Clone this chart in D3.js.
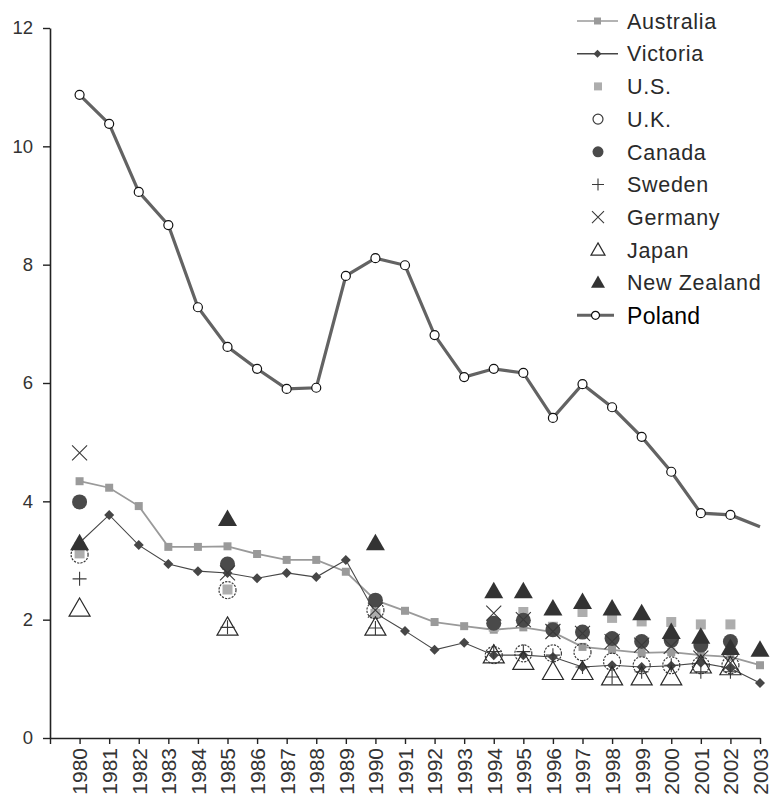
<!DOCTYPE html>
<html>
<head>
<meta charset="utf-8">
<script src="https://cdn.jsdelivr.net/npm/d3@7"></script>
<style>
  body { margin: 0; background: #fff; }
  svg { display: block; font-family: "Liberation Sans", Arial, sans-serif; }
</style>
</head>
<body>
<svg></svg>
<script>
const width = 774;
const height = 796;

// full yearly series
const years = [1980, 1981, 1982, 1983, 1984, 1985, 1986, 1987, 1988, 1989, 1990, 1991,
  1992, 1993, 1994, 1995, 1996, 1997, 1998, 1999, 2000, 2001, 2002, 2003];
const australia = [4.34, 4.23, 3.92, 3.23, 3.23, 3.24, 3.11, 3.01, 3.01, 2.81, 2.33, 2.15,
  1.96, 1.89, 1.83, 1.87, 1.79, 1.54, 1.49, 1.44, 1.45, 1.40, 1.37, 1.23];
const victoria = [3.30, 3.77, 3.26, 2.94, 2.82, 2.79, 2.70, 2.79, 2.72, 3.01, 2.11, 1.81,
  1.49, 1.61, 1.40, 1.40, 1.37, 1.20, 1.23, 1.20, 1.22, 1.27, 1.18, 0.93];
const poland = [10.87, 10.38, 9.23, 8.67, 7.28, 6.61, 6.24, 5.90, 5.92, 7.81, 8.11, 7.99,
  6.81, 6.10, 6.24, 6.17, 5.41, 5.98, 5.59, 5.09, 4.50, 3.80, 3.77, 3.57];

// countries with sparse observations
const sparseYears = [1980, 1985, 1990, 1994, 1995, 1996, 1997, 1998, 1999, 2000, 2001, 2002, 2003];
const us =      [3.12, 2.51, 2.10, 1.88, 2.13, 1.88, 2.13, 2.03, 1.97, 1.96, 1.92, 1.92, null];
const uk =      [3.10, 2.50, 2.16, 1.40, 1.43, 1.43, 1.45, 1.29, 1.23, 1.23, 1.23, 1.23, null];
const canada =  [3.99, 2.94, 2.33, 1.94, 1.99, 1.83, 1.79, 1.68, 1.63, 1.65, 1.57, 1.63, null];
const sweden =  [2.69, 1.87, 1.86, 1.46, 1.46, 1.40, 1.20, 1.03, 1.12, 1.23, 1.12, 1.12, null];
const germany = [4.82, 2.79, 2.16, 2.11, 2.00, 1.80, 1.77, 1.63, 1.57, 1.55, 1.35, 1.27, null];
const japan =   [2.19, 1.87, 1.87, 1.40, 1.29, 1.12, 1.12, 1.03, 1.03, 1.03, 1.23, 1.20, null];
const newZealand = [3.29, 3.70, 3.29, 2.48, 2.48, 2.19, 2.30, 2.19, 2.11, 1.79, 1.71, 1.52, 1.49];

const yTicks = [0, 2, 4, 6, 8, 10, 12];
const legendNames = ["Australia", "Victoria", "U.S.", "U.K.", "Canada", "Sweden",
  "Germany", "Japan", "New Zealand", "Poland"];

const svg = d3.select("svg").attr("width", width).attr("height", height);

const x = d3.scaleLinear().domain([1979, 2003]).range([50, 760]);
const y = d3.scaleLinear().domain([0, 12]).range([738, 28]);

// marker shape helpers (path strings centred on 0,0)
const shape = {
  square: (s) => d3.symbol(d3.symbolSquare, s * s)(),
  diamond: (s) => `M0,${-s / 2}L${s / 2},0L0,${s / 2}L${-s / 2},0Z`,
  circle: (s) => d3.symbol(d3.symbolCircle, Math.PI * s * s / 4)(),
  plus: (s) => `M${-s / 2},0H${s / 2}M0,${-s / 2}V${s / 2}`,
  times: (s) => `M${-s / 2},${-s / 2}L${s / 2},${s / 2}M${s / 2},${-s / 2}L${-s / 2},${s / 2}`,
  triangle: (s) => `M0,${-s * 0.5}L${s / 2},${s * 0.37}L${-s / 2},${s * 0.37}Z`
};

// marker styles per series: [shape, plot size, legend size, fill, stroke, stroke width]
const styles = {
  "Australia": ["square", 8, 7, "#9a9a9a", "none", 0],
  "Victoria": ["diamond", 10, 8, "#464646", "none", 0],
  "U.S.": ["square", 10, 8, "#adadad", "none", 0],
  "U.K.": ["circle", 17, 10, "none", "#3a3a3a", 1.2],
  "Canada": ["circle", 15, 11, "#4a4a4a", "none", 0],
  "Sweden": ["plus", 14, 12, "none", "#3a3a3a", 1.1],
  "Germany": ["times", 15, 12, "none", "#3a3a3a", 1.1],
  "Japan": ["triangle", 21, 14, "none", "#2a2a2a", 1.2],
  "New Zealand": ["triangle", 19, 14, "#333333", "none", 0],
  "Poland": ["circle", 9, 8, "#ffffff", "#111111", 1.2]
};

const marker = (sel, name, big) => {
  const st = styles[name];
  sel.attr("d", shape[st[0]](big ? st[1] : st[2]))
    .attr("fill", st[3])
    .attr("stroke", st[4])
    .attr("stroke-width", st[5]);
  if (name === "U.K." && big) sel.attr("stroke-dasharray", "2.2,1.2");
};

// axes
const yAxis = d3.axisLeft(y).tickValues(yTicks).tickSize(7).tickSizeOuter(0).tickPadding(10);
const gy = svg.append("g").attr("transform", "translate(50,0)").call(yAxis);
gy.selectAll("text").attr("font-size", 18.5).attr("fill", "#333").attr("font-family", "Liberation Sans, Arial");
gy.select(".domain").attr("stroke", "#222").attr("stroke-width", 1.6);
gy.selectAll(".tick line").attr("stroke", "#222").attr("stroke-width", 1.4);

const xAxis = d3.axisBottom(x).tickValues(d3.range(1979, 2004)).tickSize(6).tickSizeOuter(0)
  .tickFormat((d) => (d === 1979 ? "" : d));
const gx = svg.append("g").attr("transform", "translate(0,738)").call(xAxis);
gx.select(".domain").attr("stroke", "#222").attr("stroke-width", 1.6);
gx.selectAll(".tick line").attr("stroke", "#222").attr("stroke-width", 1.4);
gx.selectAll("text")
  .attr("font-size", 21)
  .attr("fill", "#333")
  .attr("font-family", "Liberation Sans, Arial")
  .attr("text-anchor", "end")
  .attr("y", 0)
  .attr("dy", "0.35em")
  .attr("transform", "translate(0,10) rotate(-90)");

// line series
const lineGen = (vals) => d3.line().x((d, i) => x(years[i])).y((d) => y(d))(vals);

svg.append("path").attr("d", lineGen(australia)).attr("fill", "none")
  .attr("stroke", "#9a9a9a").attr("stroke-width", 1.8);
svg.append("g").selectAll("path").data(australia).join("path")
  .attr("transform", (d, i) => `translate(${x(years[i])},${y(d)})`)
  .call((s) => marker(s, "Australia", true));

svg.append("path").attr("d", lineGen(victoria)).attr("fill", "none")
  .attr("stroke", "#464646").attr("stroke-width", 1.1);
svg.append("g").selectAll("path").data(victoria).join("path")
  .attr("transform", (d, i) => `translate(${x(years[i])},${y(d)})`)
  .call((s) => marker(s, "Victoria", true));

// scatter series
const scatter = [["U.S.", us], ["U.K.", uk], ["Canada", canada], ["Sweden", sweden],
  ["Germany", germany], ["Japan", japan], ["New Zealand", newZealand]];
scatter.forEach(([name, vals]) => {
  const pts = vals.map((v, i) => [sparseYears[i], v]).filter((p) => p[1] !== null);
  svg.append("g").selectAll("path").data(pts).join("path")
    .attr("transform", (p) => `translate(${x(p[0])},${y(p[1])})`)
    .call((s) => marker(s, name, true));
});

// Poland
svg.append("path").attr("d", lineGen(poland)).attr("fill", "none")
  .attr("stroke", "#636363").attr("stroke-width", 3.2);
svg.append("g").selectAll("path").data(poland.slice(0, poland.length - 1)).join("path")
  .attr("transform", (d, i) => `translate(${x(years[i])},${y(d)})`)
  .call((s) => marker(s, "Poland", true));

// legend
const legend = svg.append("g").attr("transform", "translate(577,21)");
legendNames.forEach((name, i) => {
  const g = legend.append("g").attr("transform", `translate(0,${i * 32.7})`);
  if (name === "Australia" || name === "Victoria" || name === "Poland") {
    const w = name === "Poland" ? 37 : 41;
    g.append("line").attr("x1", 0).attr("x2", w).attr("y1", 0).attr("y2", 0)
      .attr("stroke", name === "Australia" ? "#9a9a9a" : name === "Victoria" ? "#464646" : "#636363")
      .attr("stroke-width", name === "Poland" ? 3 : 1.6);
    g.append("path").attr("transform", `translate(${w / 2},0)`).call((s) => marker(s, name, false));
  } else {
    g.append("path").attr("transform", "translate(21,0)").call((s) => marker(s, name, false));
  }
  g.append("text")
    .attr("x", 50)
    .attr("dy", "0.36em")
    .attr("font-size", name === "Poland" ? 23 : 21.5)
    .attr("letter-spacing", name === "Poland" ? 0.3 : 0.7)
    .attr("fill", name === "Poland" ? "#000" : "#2a2a2a")
    .text(name);
});
</script>
</body>
</html>
